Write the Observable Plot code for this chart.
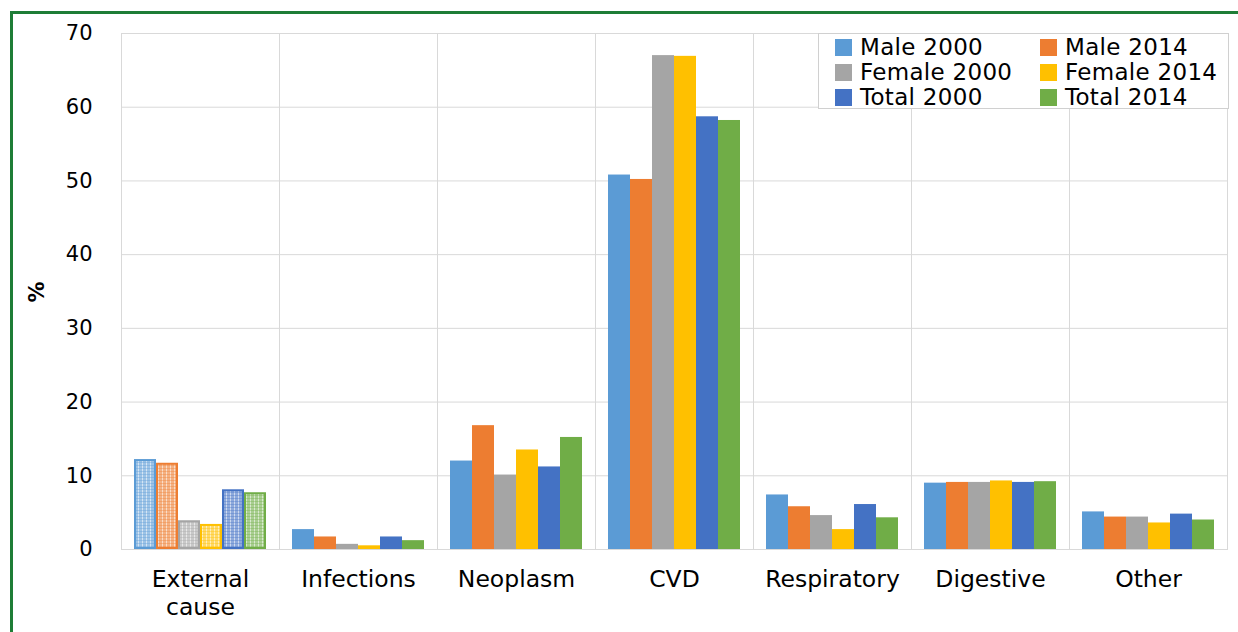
<!DOCTYPE html>
<html>
<head>
<meta charset="utf-8">
<script src="https://cdn.jsdelivr.net/npm/d3@7"></script>
<script src="https://cdn.jsdelivr.net/npm/@observablehq/plot@0.6"></script>
<style>
  html, body { margin: 0; padding: 0; background: #fff; }
  #wrap { position: relative; width: 1238px; height: 632px; overflow: hidden; font-family: "DejaVu Sans", sans-serif; }
  #border { position: absolute; left: 10px; top: 11px; width: 1240px; height: 700px; border-left: 3px solid #1e7d36; border-top: 3px solid #1e7d36; box-sizing: border-box; }
  #ylab { position: absolute; left: 37px; top: 292px; transform: translate(-50%, -50%) rotate(-90deg); font-weight: bold; font-size: 21px; color: #000; }
  #legend { position: absolute; left: 818px; top: 33px; width: 411px; height: 76px; box-sizing: border-box; border: 1.5px solid #d0d0d0; background: #fff; }
  .li { position: absolute; font-size: 23px; color: #000; white-space: nowrap; line-height: 1; letter-spacing: 0.3px; }
  .sw { display: inline-block; width: 17px; height: 17px; margin-right: 8px; vertical-align: -1px; }
  #chart { position: absolute; left: 0; top: 0; }
</style>
</head>
<body>
<div id="wrap">
  <div id="border"></div>
  <div id="chart"></div>
  <div id="ylab">%</div>
  <div id="legend"></div>
</div>
<svg width="0" height="0" style="position:absolute">
  <defs id="defs"></defs>
</svg>
<script>
const causes = ["External cause", "Infections", "Neoplasm", "CVD", "Respiratory", "Digestive", "Other"];
const series = ["Male 2000", "Male 2014", "Female 2000", "Female 2014", "Total 2000", "Total 2014"];
const colors = ["#5B9BD5", "#ED7D31", "#A5A5A5", "#FFC000", "#4472C4", "#70AD47"];
const male2000   = [12.2, 2.7, 12.0, 50.8, 7.4, 9.0, 5.1];
const male2014   = [11.7, 1.7, 16.8, 50.2, 5.8, 9.1, 4.4];
const female2000 = [3.9, 0.7, 10.1, 67.0, 4.6, 9.1, 4.4];
const female2014 = [3.4, 0.5, 13.5, 66.9, 2.7, 9.3, 3.6];
const total2000  = [8.1, 1.7, 11.2, 58.7, 6.1, 9.1, 4.8];
const total2014  = [7.7, 1.2, 15.2, 58.2, 4.3, 9.2, 4.0];
const yTicks = [0, 10, 20, 30, 40, 50, 60, 70];

const seriesValues = [male2000, male2014, female2000, female2014, total2000, total2014];
const data = [];
causes.forEach((c, ci) => series.forEach((s, si) => data.push({cause: c, series: s, value: seriesValues[si][ci]})));

// hatch patterns for External cause bars
const defs = document.getElementById("defs");
colors.forEach((col, i) => {
  defs.insertAdjacentHTML("beforeend",
    `<pattern id="pat${i}" width="4" height="3" patternUnits="userSpaceOnUse">
       <rect width="4" height="3" fill="#fff"/>
       <rect width="4" height="3" fill="${col}" fill-opacity="0.6"/>
       <path d="M0.5 0V3" stroke="#fff" stroke-opacity="0.55" stroke-width="1"/>
       <path d="M0 0.5H4" stroke="${col}" stroke-opacity="0.35" stroke-width="1"/>
     </pattern>`);
});

const special = "External cause";
const chart = Plot.plot({
  width: 1238,
  height: 632,
  marginLeft: 119,
  marginRight: 9,
  marginTop: 33,
  marginBottom: 83,
  style: {fontFamily: "DejaVu Sans", background: "transparent", color: "#000"},
  fx: {domain: causes, paddingInner: 0, paddingOuter: 0, label: null, axis: null},
  x: {domain: series, paddingInner: 0, paddingOuter: 0.5, axis: null},
  y: {domain: [0, 70], label: null},
  color: {domain: series, range: colors},
  marks: [
    Plot.gridY(yTicks, {stroke: "#d9d9d9", strokeOpacity: 1}),
    Plot.frame({stroke: "#d9d9d9"}),
    Plot.barY(data.filter(d => d.cause !== special), {fx: "cause", x: "series", y: "value", fill: "series"}),
    ...series.map((s, i) => Plot.barY(data.filter(d => d.cause === special && d.series === s),
      {fx: "cause", x: "series", y: "value", fill: `url(#pat${i})`, stroke: colors[i], strokeWidth: 2, inset: 1})),
    Plot.axisY(yTicks, {tickSize: 0, tickPadding: 29, fontSize: 21, label: null}),
    Plot.axisFx({anchor: "bottom", tickSize: 0, tickPadding: 17, fontSize: 23.5, label: null, lineHeight: 1.2,
      tickFormat: d => d === special ? "External\ncause" : d})
  ]
});
document.getElementById("chart").appendChild(chart);

// legend
const lg = document.getElementById("legend");
const rowsY = [2, 27, 52];
series.forEach((s, i) => {
  const col = i % 2, row = Math.floor(i / 2);
  const el = document.createElement("div");
  el.className = "li";
  el.style.left = (col === 0 ? 16 : 221) + "px";
  el.style.top = rowsY[row] + "px";
  el.innerHTML = `<span class="sw" style="background:${colors[i]}"></span>${s}`;
  lg.appendChild(el);
});
</script>
</body>
</html>
